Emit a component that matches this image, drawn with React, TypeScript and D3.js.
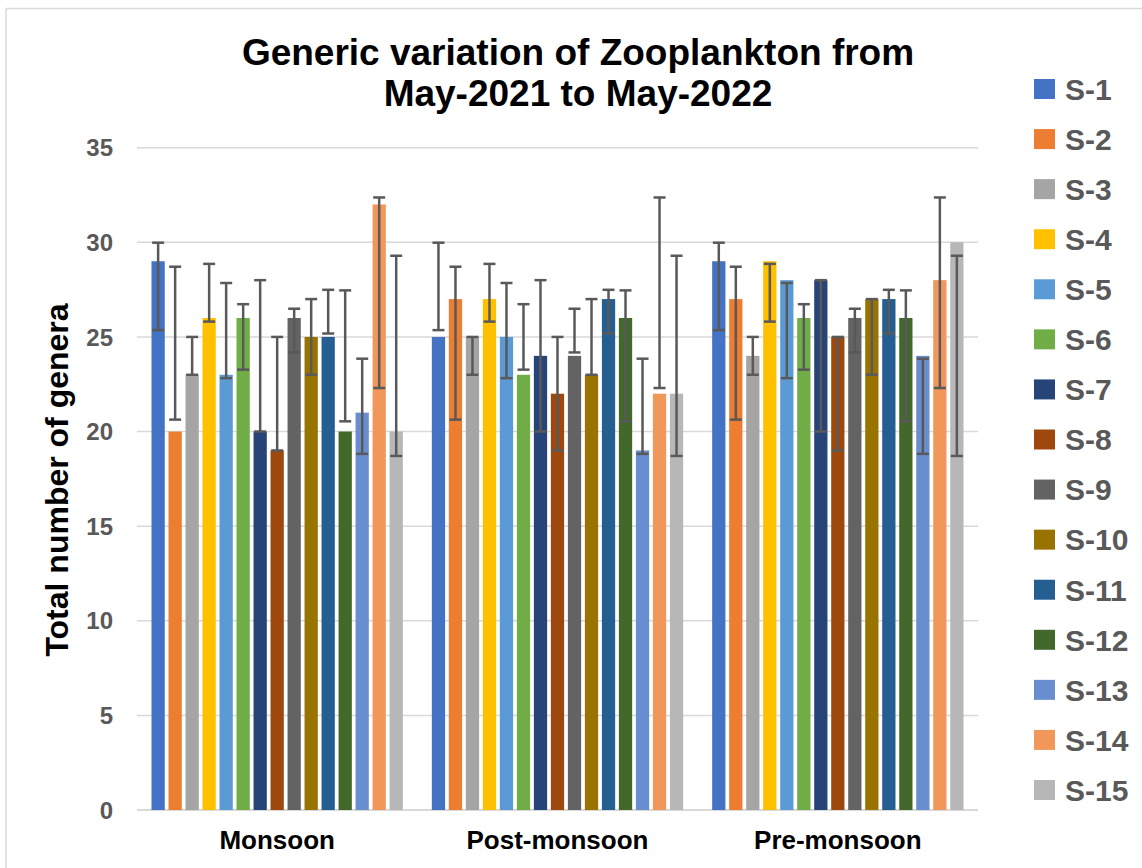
import React from 'react';
import * as d3 from 'd3';

// seasons on the x axis, stations in the legend
const seasons = ['Monsoon', 'Post-monsoon', 'Pre-monsoon'];
const stations = ['S-1', 'S-2', 'S-3', 'S-4', 'S-5', 'S-6', 'S-7', 'S-8', 'S-9', 'S-10', 'S-11', 'S-12', 'S-13', 'S-14', 'S-15'];

// number of genera per station, one array per season
const monsoon = [29, 20, 23, 26, 23, 26, 20, 19, 26, 25, 25, 20, 21, 32, 20];
const postMonsoon = [25, 27, 25, 27, 25, 23, 24, 22, 24, 23, 27, 26, 19, 22, 22];
const preMonsoon = [29, 27, 24, 29, 28, 26, 28, 25, 26, 27, 27, 26, 24, 28, 30];

// error bar ends per station (same bar repeated in every season)
const errLow = [25.36, 20.63, 23, 25.81, 22.82, 23.27, 20, 19, 24.18, 23, 25.18, 20.54, 18.82, 22.3, 18.71];
const errHigh = [29.98, 28.71, 25, 28.86, 27.85, 26.73, 28, 25, 26.49, 27, 27.49, 27.46, 23.85, 32.37, 29.29];

const yTicks = [0, 5, 10, 15, 20, 25, 30, 35];

const colors = ['#4472C4', '#ED7D31', '#A5A5A5', '#FFC000', '#5B9BD5', '#70AD47', '#264478', '#9E480E', '#636363', '#997300', '#255E91', '#43682B', '#698ED0', '#F1975A', '#B7B7B7'];

const values = [monsoon, postMonsoon, preMonsoon];

export default function App() {
  const W = 1142;
  const H = 868;
  const plot = { left: 137, right: 978, top: 147.7, bottom: 810 };
  const font = '"Liberation Sans", Arial, sans-serif';

  const x0 = d3.scaleBand<string>().domain(seasons).range([plot.left, plot.right]);
  const x1 = d3.scaleBand<string>().domain(stations).range([14.5, x0.bandwidth() - 14.5]).paddingInner(0.22);
  const y = d3.scaleLinear().domain([0, 35]).range([plot.bottom, plot.top]);

  const legendY = d3.scalePoint<string>().domain(stations).range([89, 790]);
  const cap = 6;

  return (
    <div style={{ position: 'absolute', left: 0, top: 0 }}>
      <svg width={W} height={H} style={{ display: 'block', background: '#fff' }} fontFamily={font}>
        {/* chart border */}
        <line x1={6} y1={8.5} x2={W} y2={8.5} stroke="#d9d9d9" strokeWidth={1.5} />
        <line x1={6} y1={8.5} x2={6} y2={H} stroke="#d9d9d9" strokeWidth={1.5} />

        {/* title */}
        <text x={578} y={65} textAnchor="middle" fontSize={37} fontWeight="bold" fill="#000">
          Generic variation of Zooplankton from
        </text>
        <text x={578} y={106} textAnchor="middle" fontSize={37} fontWeight="bold" fill="#000">
          May-2021 to May-2022
        </text>

        {/* gridlines + y ticks */}
        {yTicks.map(t => (
          <g key={t}>
            <line x1={plot.left} x2={plot.right} y1={y(t)} y2={y(t)} stroke="#d9d9d9" strokeWidth={t === 0 ? 2 : 1.5} />
            <text x={113} y={y(t)} dy="0.36em" textAnchor="end" fontSize={24} fontWeight="bold" fill="#595959">
              {t}
            </text>
          </g>
        ))}

        {/* y axis title */}
        <text
          transform={`translate(68,480) rotate(-90)`}
          textAnchor="middle"
          fontSize={32}
          fontWeight="bold"
          fill="#000"
        >
          Total number of genera
        </text>

        {/* bars */}
        {seasons.map((s, si) => (
          <g key={s} transform={`translate(${x0(s)},0)`}>
            {stations.map((st, i) => (
              <rect
                key={st}
                x={x1(st)}
                y={y(values[si][i])}
                width={x1.bandwidth()}
                height={y(0) - y(values[si][i])}
                fill={colors[i]}
              />
            ))}
            {stations.map((st, i) => {
              const cx = (x1(st) as number) + x1.bandwidth() / 2;
              return (
                <g key={st} stroke="#595959" strokeWidth={2.5}>
                  <line x1={cx} x2={cx} y1={y(errLow[i])} y2={y(errHigh[i])} />
                  <line x1={cx - cap} x2={cx + cap} y1={y(errLow[i])} y2={y(errLow[i])} />
                  <line x1={cx - cap} x2={cx + cap} y1={y(errHigh[i])} y2={y(errHigh[i])} />
                </g>
              );
            })}
            <text x={x0.bandwidth() / 2} y={849} textAnchor="middle" fontSize={26} fontWeight="bold" fill="#000">
              {s}
            </text>
          </g>
        ))}

        {/* legend */}
        {stations.map((st, i) => (
          <g key={st} transform={`translate(0,${legendY(st)})`}>
            <rect x={1034} y={-10} width={21} height={20} fill={colors[i]} />
            <text x={1065} y={0} dy="0.36em" fontSize={30} fontWeight="bold" fill="#595959">
              {st}
            </text>
          </g>
        ))}
      </svg>
    </div>
  );
}
